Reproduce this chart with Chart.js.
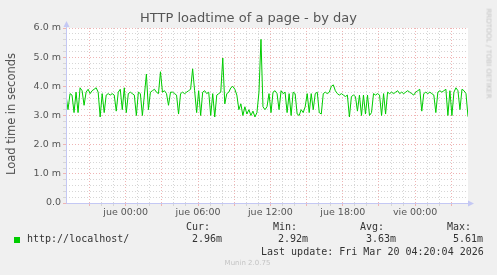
<!DOCTYPE html>
<html>
<head>
<meta charset="utf-8">
<script src="https://cdn.jsdelivr.net/npm/chart.js@4.4.1/dist/chart.umd.min.js"></script>
<style>
    html, body { margin: 0; padding: 0; background: #f0f0f0; }
    #wrap { position: relative; width: 497px; height: 275px; overflow: hidden; }
    #chart { position: absolute; left: 0; top: 0; }
    .t { position: absolute; white-space: pre; }
    .sans { font-family: "DejaVu Sans", sans-serif; color: #555; }
    .mono { font-family: "DejaVu Sans Mono", monospace; font-size: 10px; line-height: 12px; color: #333; }
</style>
</head>
<body>
<div id="wrap">
    <canvas id="chart" width="497" height="275"></canvas>
    <div class="t sans" id="title" style="left:0;top:10px;width:497px;text-align:center;font-size:13px;line-height:15px;">HTTP loadtime of a page - by day</div>
    <div class="t sans" style="left:-89px;top:107px;width:200px;height:14px;text-align:center;font-size:11.5px;line-height:14px;transform:rotate(-90deg);">Load time in seconds</div>
    <div class="t sans" style="left:438px;top:49px;width:100px;height:9px;text-align:center;font-size:7px;line-height:9px;color:#c4c4c4;transform:rotate(90deg);">RRDTOOL / TOBI OETIKER</div>

    <div class="t mono" style="left:186px;top:221px;">Cur:</div>
    <div class="t mono" style="left:273px;top:221px;">Min:</div>
    <div class="t mono" style="left:360px;top:221px;">Avg:</div>
    <div class="t mono" style="left:447px;top:221px;">Max:</div>

    <div class="t" style="left:14px;top:237px;width:6px;height:6px;background:#00cc00;"></div>
    <div class="t mono" style="left:27px;top:233px;">http://localhost/</div>
    <div class="t mono" style="left:192px;top:233px;">2.96m</div>
    <div class="t mono" style="left:278px;top:233px;">2.92m</div>
    <div class="t mono" style="left:366px;top:233px;">3.63m</div>
    <div class="t mono" style="left:453px;top:233px;">5.61m</div>

    <div class="t mono" style="left:261px;top:246px;">Last update: Fri Mar 20 04:20:04 2026</div>
    <div class="t sans" style="left:0;top:258px;width:495px;text-align:center;font-size:7px;line-height:10px;color:#c4c4c4;">Munin 2.0.75</div>
</div>

<script>
// Load time samples (seconds), one every 10 minutes
const startHour = -4.95;      // hours relative to jue 00:00
const stepHours = 1 / 6;
const loadTimes = [
    3.70, 3.20, 3.75, 3.70, 3.10, 3.80,
    3.10, 3.95, 3.85, 3.35, 3.80, 3.90,
    3.75, 3.85, 3.90, 3.95, 3.80, 2.95,
    3.75, 3.10, 3.70, 3.75, 3.70, 3.75,
    3.70, 3.15, 3.80, 3.90, 3.20, 3.95,
    3.10, 3.75, 3.80, 3.75, 3.70, 3.00,
    3.80, 3.75, 3.00, 3.70, 4.42, 3.20,
    3.80, 3.85, 3.90, 3.80, 3.75, 4.50,
    3.80, 3.85, 3.75, 3.35, 3.80, 3.80,
    3.75, 3.70, 3.05, 3.75, 3.80, 3.75,
    3.80, 3.85, 3.90, 4.60, 3.85, 3.10,
    3.85, 3.00, 3.80, 3.85, 3.75, 3.80,
    3.00, 3.75, 2.95, 3.70, 3.75, 3.80,
    4.97, 3.40, 3.75, 3.80, 3.95, 4.00,
    3.90, 3.70, 3.20, 3.40, 3.00, 3.30,
    3.05, 3.20, 3.00, 3.15, 2.95, 3.10,
    3.80, 5.61, 3.30, 3.20, 3.30, 3.75,
    3.10, 3.80, 3.85, 3.75, 3.20, 3.85,
    3.75, 3.80, 3.10, 3.75, 3.00, 3.80,
    3.75, 3.05, 3.00, 3.20, 3.10, 3.30,
    3.75, 3.10, 3.75, 3.20, 3.75, 3.80,
    3.10, 3.05, 3.75, 3.80, 3.75, 3.80,
    4.00, 4.05, 3.85, 3.75, 3.70, 3.75,
    3.70, 3.65, 3.70, 2.95, 3.65, 3.70,
    3.65, 3.15, 3.70, 3.00, 3.70, 3.05,
    3.70, 3.00, 3.10, 3.75, 3.70, 3.75,
    3.70, 3.00, 3.75, 3.05, 3.80, 3.75,
    3.80, 3.75, 3.80, 3.85, 3.75, 3.80,
    3.75, 3.80, 3.85, 3.80, 3.75, 3.70,
    3.80, 3.85, 3.90, 3.15, 3.75, 3.80,
    3.75, 3.80, 3.75, 3.70, 3.10, 3.80,
    3.85, 3.80, 3.85, 3.90, 3.00, 3.85,
    3.00, 3.80, 3.95, 3.85, 3.20, 3.90,
    3.85, 3.75, 2.96
];

// Axis labels
const xTickHours = [0, 6, 12, 18, 24];
const xTickLabels = ['jue 00:00', 'jue 06:00', 'jue 12:00', 'jue 18:00', 'vie 00:00'];
const yTickValues = [0, 1, 2, 3, 4, 5, 6];
const yTickLabels = ['0.0', '1.0 m', '2.0 m', '3.0 m', '4.0 m', '5.0 m', '6.0 m'];

const MAJOR = '#efb4b4';
const MINOR = '#d6d6d6';
const AXIS = '#c4c8f4';

const isInt = (v, step) => Math.abs(v / step - Math.round(v / step)) < 1e-6;

const points = loadTimes.map((v, i) => ({ x: startHour + i * stepHours, y: v }));

// white plot background + axis arrows like rrdtool
const munin = {
    id: 'munin',
    beforeDraw(chart) {
        const { ctx, chartArea: a } = chart;
        ctx.save();
        ctx.fillStyle = '#ffffff';
        ctx.fillRect(a.left, a.top, a.right - a.left, a.bottom - a.top);
        ctx.restore();
    },
    afterDraw(chart) {
        const { ctx, chartArea: a } = chart;
        const x0 = Math.round(a.left) + 0.5;
        const y0 = Math.round(a.bottom) + 0.5;
        ctx.save();
        ctx.strokeStyle = AXIS;
        ctx.fillStyle = AXIS;
        ctx.lineWidth = 1;
        ctx.beginPath();
        ctx.moveTo(x0, y0);
        ctx.lineTo(x0, a.top - 3);
        ctx.moveTo(x0, y0);
        ctx.lineTo(a.right + 3, y0);
        ctx.stroke();
        ctx.beginPath();
        ctx.moveTo(x0, a.top - 7);
        ctx.lineTo(x0 - 3, a.top - 1);
        ctx.lineTo(x0 + 3, a.top - 1);
        ctx.fill();
        ctx.beginPath();
        ctx.moveTo(a.right + 6, y0);
        ctx.lineTo(a.right, y0 - 3);
        ctx.lineTo(a.right, y0 + 3);
        ctx.fill();
        ctx.restore();
    }
};

const tickFont = { family: 'DejaVu Sans', size: 9.5 };

new Chart(document.getElementById('chart'), {
    type: 'line',
    data: {
        datasets: [{
            data: points,
            borderColor: '#00cc00',
            borderWidth: 1,
            pointRadius: 0,
            tension: 0,
            fill: false
        }]
    },
    options: {
        responsive: false,
        animation: false,
        events: [],
        layout: { padding: { left: 26, top: 28, right: 29, bottom: 0 } },
        plugins: { legend: { display: false }, tooltip: { enabled: false } },
        scales: {
            x: {
                type: 'linear',
                min: startHour,
                max: startHour + (loadTimes.length - 1) * stepHours,
                afterBuildTicks: s => { s.ticks = s.ticks.filter(t => isInt(t.value, 1)); },
                afterFit: s => { s.height = 72; },
                ticks: {
                    stepSize: 1,
                    autoSkip: false,
                    maxRotation: 0,
                    padding: 1,
                    color: '#555',
                    font: tickFont,
                    callback: v => {
                        const k = xTickHours.findIndex(h => Math.abs(h - v) < 1e-6);
                        return k >= 0 ? xTickLabels[k] : '';
                    }
                },
                grid: {
                    color: c => isInt(c.tick.value, 3) ? MAJOR : MINOR,
                    lineWidth: 1,
                    tickLength: 3
                },
                border: {
                    display: false,
                    dash: [1, 2]
                }
            },
            y: {
                min: 0,
                max: 6,
                afterBuildTicks: s => { s.ticks = s.ticks.filter(t => isInt(t.value, 0.2)); },
                afterFit: s => { s.width = 40; },
                ticks: {
                    stepSize: 0.2,
                    autoSkip: false,
                    padding: 2,
                    color: '#555',
                    font: tickFont,
                    callback: v => {
                        const k = yTickValues.findIndex(t => Math.abs(t - v) < 1e-6);
                        return k >= 0 ? yTickLabels[k] : '';
                    }
                },
                grid: {
                    color: c => isInt(c.tick.value, 1) ? MAJOR : MINOR,
                    lineWidth: 1,
                    tickLength: 3
                },
                border: {
                    display: false,
                    dash: [1, 2]
                }
            }
        }
    },
    plugins: [munin]
});
</script>
</body>
</html>
